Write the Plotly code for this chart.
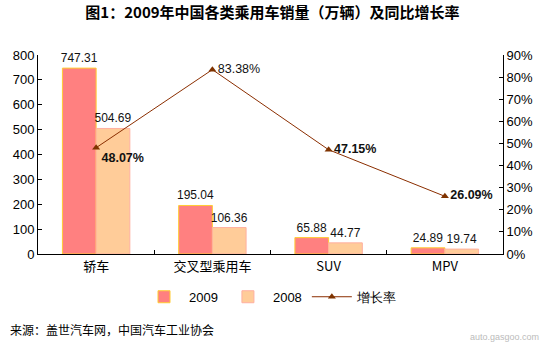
import plotly.graph_objects as go

categories = ["轿车", "交叉型乘用车", "SUV", "MPV"]
sales_2009 = [747.31, 195.04, 65.88, 24.89]
sales_2008 = [504.69, 106.36, 44.77, 19.74]
growth = [0.4807, 0.8338, 0.4715, 0.2609]
growth_labels = ["<b>48.07%</b>", "83.38%", "<b>47.15%</b>", "<b>26.09%</b>"]
growth_textpos = ["bottom right", "middle right", "middle right", "middle right"]

FONT = "Liberation Sans, Arial, sans-serif"
CJK = "Noto Sans CJK SC, sans-serif"

fig = go.Figure()
fig.add_trace(go.Bar(
    x=categories, y=sales_2009, name="2009",
    marker=dict(color="#FF8080", line=dict(color="#FFCC33", width=1)),
    text=[f"{v:.2f}" for v in sales_2009], textposition="outside", constraintext="none",
    textfont=dict(family=FONT, size=12, color="#111"), cliponaxis=False,
))
fig.add_trace(go.Bar(
    x=categories, y=sales_2008, name="2008",
    marker=dict(color="#FFCC99", line=dict(color="#FFB0A0", width=1)),
    text=[f"{v:.2f}" for v in sales_2008], textposition="outside", constraintext="none",
    textfont=dict(family=FONT, size=12, color="#111"), cliponaxis=False,
))
fig.add_trace(go.Scatter(
    x=categories, y=growth, name="增长率", yaxis="y2",
    mode="lines+markers+text",
    line=dict(color="#8B2E00", width=1),
    marker=dict(symbol="triangle-up", size=7, color="#7F3300"),
    text=growth_labels, textposition=growth_textpos,
    textfont=dict(family=FONT, size=12.5, color="#111"), cliponaxis=False,
))

fig.update_layout(
    width=545, height=344,
    margin=dict(l=38, r=40, t=55, b=90),
    paper_bgcolor="white", plot_bgcolor="white",
    barmode="group", bargap=0.42, bargroupgap=0,
    title=dict(text="<b>图1：2009年中国各类乘用车销量（万辆）及同比增长率</b>",
               x=0.5, xanchor="center", y=0.962, yanchor="middle",
               font=dict(family=CJK, size=15, color="#000")),
    xaxis=dict(type="category", range=[-0.5, 3.5], tickson="boundaries",
               ticks="inside", ticklen=4, tickcolor="#000",
               showline=True, linecolor="#000", linewidth=1, showgrid=False,
               tickfont=dict(family=CJK, size=13, color="#000")),
    yaxis=dict(range=[0, 800], dtick=100, ticks="inside", ticklen=4, tickcolor="#000",
               showline=True, linecolor="#000", linewidth=1, showgrid=False, zeroline=False,
               tickfont=dict(family=FONT, size=13, color="#000")),
    yaxis2=dict(range=[0, 0.9], dtick=0.1, tickformat=".0%", overlaying="y", side="right",
                ticks="inside", ticklen=4, tickcolor="#000",
                showline=True, linecolor="#000", linewidth=1, showgrid=False, zeroline=False,
                tickfont=dict(family=FONT, size=13, color="#000")),
    legend=dict(orientation="h", x=0.5, xanchor="center", y=-0.215, yanchor="middle",
                font=dict(family=FONT, size=13, color="#000"), traceorder="normal",
                itemwidth=40),
    showlegend=True,
)

fig.add_annotation(text="来源：盖世汽车网，中国汽车工业协会", xref="paper", yref="paper",
                   x=-30/467, y=-(329-254)/199, xanchor="left", yanchor="middle",
                   showarrow=False, font=dict(family=CJK, size=12, color="#000"))
fig.add_annotation(text="auto.gasgoo.com", xref="paper", yref="paper",
                   x=(543-38)/467, y=-(337-254)/199, xanchor="right", yanchor="middle",
                   showarrow=False, font=dict(family=FONT, size=9, color="#BBBBBB"))

fig.write_html("out.html")
